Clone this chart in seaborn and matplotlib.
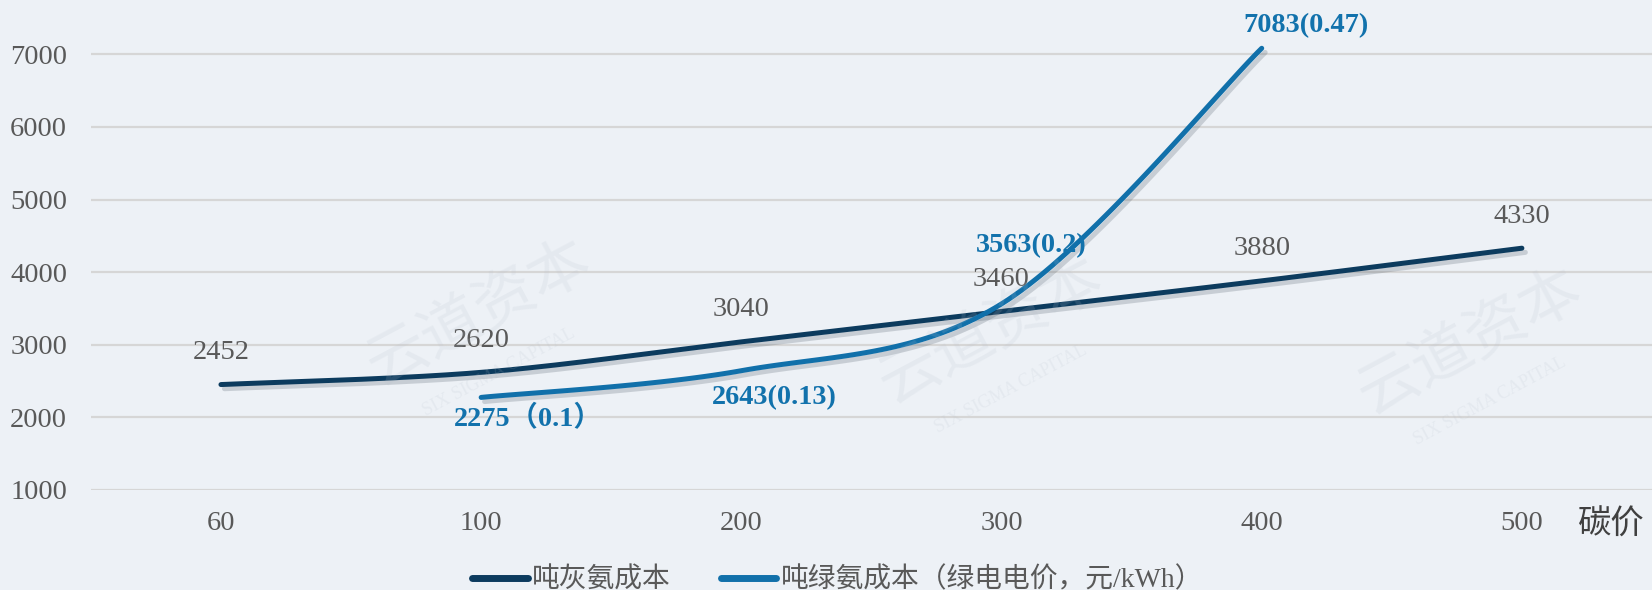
import numpy as np
import pandas as pd
import seaborn as sns
import matplotlib.pyplot as plt
from matplotlib import patheffects as pe
from matplotlib.lines import Line2D

# ---- data ----
carbon_price = ["60", "100", "200", "300", "400", "500"]
grey_cost = [2452, 2620, 3040, 3460, 3880, 4330]
green_cost = [2275, 2643, 3563, 7083]            # carbon price 100 .. 400
green_power_price = ["0.1", "0.13", "0.2", "0.47"]
green_paren = [("（", "）"), ("(", ")"), ("(", ")"), ("(", ")")]
y_ticks = [1000, 2000, 3000, 4000, 5000, 6000, 7000]
series_names = ["吨灰氨成本", "吨绿氨成本（绿电电价，元/kWh）"]
x_title = "碳价"
watermark = "云道资本"
watermark_en = "SIX SIGMA CAPITAL"

GREY_LINE = "#0c3b5e"
GREEN_LINE = "#1170aa"
GREEN_TEXT = "#1272ac"
TEXT = "#595959"

sns.set_theme(style="white")
plt.rcParams["font.family"] = ["Liberation Serif", "Noto Sans CJK SC", "DejaVu Sans"]


def smooth(xs, ys, n=40):
    """Cubic Bezier smoothing through the points (Catmull-Rom style)."""
    xs = np.asarray(xs, float)
    ys = np.asarray(ys, float)
    pts = np.column_stack([xs, ys])
    out = []
    m = len(pts)
    for i in range(m - 1):
        p0 = pts[i - 1] if i > 0 else pts[i]
        p1, p2 = pts[i], pts[i + 1]
        p3 = pts[i + 2] if i + 2 < m else pts[i + 1]
        c1 = p1 + (p2 - p0) / 6.0
        c2 = p2 - (p3 - p1) / 6.0
        t = np.linspace(0, 1, n)[:, None]
        seg = ((1 - t) ** 3) * p1 + 3 * ((1 - t) ** 2) * t * c1 + 3 * (1 - t) * t ** 2 * c2 + t ** 3 * p2
        out.append(seg if i == 0 else seg[1:])
    seg = np.vstack(out)
    return seg[:, 0], seg[:, 1]


fig = plt.figure(figsize=(16.52, 5.90), dpi=100)
fig.patch.set_facecolor("#edf1f6")

# very faint background watermark
for wx, wy in [(0.29, 0.47), (0.60, 0.44), (0.89, 0.42)]:
    fig.text(wx, wy, watermark, fontsize=44, rotation=28, color="#b7c0cc", alpha=0.16,
             ha="center", va="center", family=["Noto Sans CJK SC"], zorder=0)
    fig.text(wx + 0.012, wy - 0.10, watermark_en, fontsize=13, rotation=28, color="#b7c0cc",
             alpha=0.16, ha="center", va="center", zorder=0)

ax = fig.add_axes([0.055, 0.1695, 0.945, 0.8305])
ax.set_facecolor("none")

grey_x = np.arange(len(carbon_price))
green_x = np.arange(1, 1 + len(green_cost))

gx, gy = smooth(grey_x, grey_cost)
bx, by = smooth(green_x, green_cost)
df_grey = pd.DataFrame({"x": gx, "y": gy})
df_green = pd.DataFrame({"x": bx, "y": by})

shadow = [pe.SimpleLineShadow(offset=(2.5, -3), alpha=0.2, shadow_color="#33414f"), pe.Normal()]

sns.lineplot(data=df_grey, x="x", y="y", sort=False, ax=ax, color=GREY_LINE,
             linewidth=3.6, solid_capstyle="round", path_effects=shadow, zorder=3)
sns.lineplot(data=df_green, x="x", y="y", sort=False, ax=ax, color=GREEN_LINE,
             linewidth=3.6, solid_capstyle="round", path_effects=shadow, zorder=4)

# axes styling
ax.set_xlim(-0.5, 5.5)
ax.set_ylim(1000, 7748)
ax.set_yticks(y_ticks)
ax.set_yticklabels([str(v) for v in y_ticks])
ax.set_xticks(grey_x)
ax.set_xticklabels(carbon_price)
ax.tick_params(axis="y", labelsize=20.5, colors=TEXT, pad=17, length=0)
ax.tick_params(axis="x", labelsize=20.5, colors=TEXT, pad=15, length=0)
ax.grid(axis="y", color="#d6d6d6", linewidth=1.6)
ax.grid(axis="x", visible=False)
ax.set_axisbelow(True)
for s in ax.spines.values():
    s.set_visible(False)
ax.set_xlabel("")
ax.set_ylabel("")

# value labels, grey series
for x, v in zip(grey_x, grey_cost):
    ax.annotate(str(v), (x, v), xytext=(0, 32), textcoords="offset pixels",
                ha="center", va="center", fontsize=20.5, color=TEXT, zorder=6)

# value labels, green series
green_offsets = [(-27, -21), (-29, -27), (-26, 58), (-18, 23)]
for x, v, p, (l, r), (dx, dy) in zip(green_x, green_cost, green_power_price, green_paren, green_offsets):
    ax.annotate(f"{v}{l}{p}{r}", (x, v), xytext=(dx, dy), textcoords="offset pixels",
                ha="left", va="center", fontsize=20.3, fontweight="bold", color=GREEN_TEXT, zorder=6)

# axis title at the right end
fig.text(1578 / 1652, 1 - 524 / 590, x_title, fontsize=24, color="#404040",
         ha="left", va="center", family=["Noto Sans CJK SC"])

# legend
handles = [Line2D([0], [0], color=GREY_LINE, linewidth=5, solid_capstyle="round"),
           Line2D([0], [0], color=GREEN_LINE, linewidth=5, solid_capstyle="round")]
fig.legend(handles, series_names, loc="lower center", bbox_to_anchor=(0.507, -0.048),
           ncol=2, frameon=False, fontsize=20, handlelength=2.0, handletextpad=0.15,
           columnspacing=1.8, labelcolor=TEXT)

fig.savefig("out.png", dpi=100, facecolor=fig.get_facecolor())
